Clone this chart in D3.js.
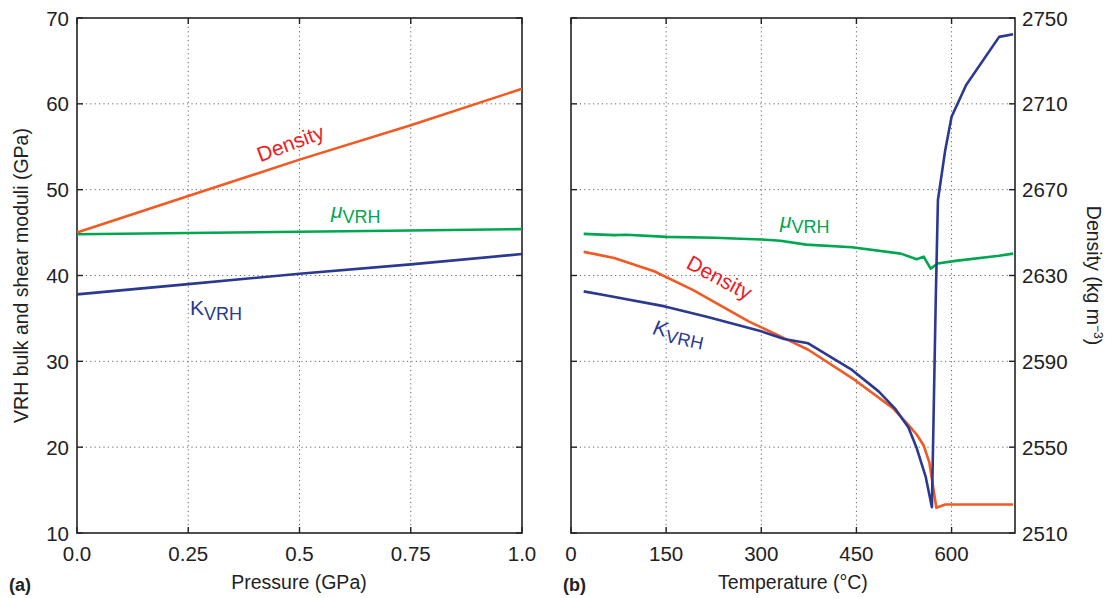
<!DOCTYPE html>
<html>
<head>
<meta charset="utf-8">
<script src="https://cdn.jsdelivr.net/npm/d3@7"></script>
<style>
  body { margin: 0; background: #fff; }
  svg { font-family: "Liberation Sans", Arial, sans-serif; }
  .grid line { stroke: #666; stroke-width: 1; stroke-dasharray: 1.2, 3.2; }
  .frame { fill: none; stroke: #222; stroke-width: 1.6; }
  .tick-lbl { font-size: 20.5px; fill: #222; }
  .ax-lbl { font-size: 19.5px; fill: #222; }
</style>
</head>
<body>
<div id="chart"></div>
<script>
// ---- data (a): pressure at room temperature ----
const pressure = [0, 0.25, 0.5, 0.75, 1.0];
const kP = [37.8, 39.0, 40.2, 41.3, 42.5];
const muP = [44.8, 44.95, 45.1, 45.25, 45.4];
const rhoP = [2650, 2667, 2684, 2700, 2717];

// ---- data (b): temperature ----
const tempMu = [20, 68, 87, 151, 225, 300, 330, 371, 443, 520, 545, 556, 567, 578, 606, 675, 697];
const muT = [44.85, 44.7, 44.75, 44.5, 44.4, 44.2, 44.05, 43.6, 43.3, 42.55, 41.9, 42.2, 40.8, 41.4, 41.7, 42.3, 42.55];

const tempK = [20, 54, 148, 214, 300, 336, 374, 443, 485, 512, 532, 545, 559, 569, 575, 578.5, 590, 600, 623, 675, 697];
const kT = [38.15, 37.7, 36.4, 35.2, 33.5, 32.6, 32.1, 29.0, 26.5, 24.4, 22.3, 19.9, 16.6, 13.0, 37.0, 48.8, 54.6, 58.5, 62.2, 67.8, 68.1];

const tempRho = [20, 68, 131, 192, 280, 336, 374, 443, 507, 529, 545, 556, 565, 576, 590, 697];
const rhoT = [2641, 2638.2, 2632, 2623.3, 2608.6, 2600.8, 2595.4, 2582.2, 2568.3, 2561.3, 2555.9, 2550.8, 2542.8, 2521.8, 2523.3, 2523.3];

const gpaTicks = [10, 20, 30, 40, 50, 60, 70];
const rhoTicks = [2510, 2550, 2590, 2630, 2670, 2710, 2750];
const pTicks = [0, 0.25, 0.5, 0.75, 1.0];
const pTickLabels = ["0.0", "0.25", "0.5", "0.75", "1.0"];
const tTicks = [0, 150, 300, 450, 600];

const colK = "#2b3990", colMu = "#00a650", colRho = "#f15a22", colRhoTxt = "#ed1c24";

const W = 1108, H = 598;
const yTop = 18, yBot = 533;
const svg = d3.select("#chart").append("svg").attr("width", W).attr("height", H);

const yG = d3.scaleLinear().domain([10, 70]).range([yBot, yTop]);
const yR = d3.scaleLinear().domain([2510, 2750]).range([yBot, yTop]);

function panel(x0, x1, xDomain, xTicks, xFmt) {
  const x = d3.scaleLinear().domain(xDomain).range([x0, x1]);
  const g = svg.append("g");
  // grid
  const grid = g.append("g").attr("class", "grid");
  grid.selectAll(".gx").data(xTicks.filter(d => x(d) > x0 + 1 && x(d) < x1 - 1)).enter()
    .append("line").attr("x1", d => x(d)).attr("x2", d => x(d)).attr("y1", yTop).attr("y2", yBot);
  grid.selectAll(".gy").data(gpaTicks.slice(1, -1)).enter()
    .append("line").attr("x1", x0).attr("x2", x1).attr("y1", d => yG(d)).attr("y2", d => yG(d));
  // inward ticks on all sides
  const tl = 6;
  const ticks = g.append("g").attr("stroke", "#222").attr("stroke-width", 1.4);
  xTicks.forEach(d => {
    ticks.append("line").attr("x1", x(d)).attr("x2", x(d)).attr("y1", yBot).attr("y2", yBot - tl);
    ticks.append("line").attr("x1", x(d)).attr("x2", x(d)).attr("y1", yTop).attr("y2", yTop + tl);
  });
  gpaTicks.forEach(d => {
    ticks.append("line").attr("x1", x0).attr("x2", x0 + tl).attr("y1", yG(d)).attr("y2", yG(d));
    ticks.append("line").attr("x1", x1).attr("x2", x1 - tl).attr("y1", yG(d)).attr("y2", yG(d));
  });
  g.append("rect").attr("class", "frame").attr("x", x0).attr("y", yTop).attr("width", x1 - x0).attr("height", yBot - yTop);
  // x tick labels
  g.selectAll(".xl").data(xTicks).enter().append("text").attr("class", "tick-lbl")
    .attr("x", d => x(d)).attr("y", yBot + 28).attr("text-anchor", "middle")
    .text((d, i) => xFmt(d, i));
  return { g, x };
}

function drawLine(g, x, y, xs, ys, color) {
  const line = d3.line().x(d => x(d[0])).y(d => y(d[1]));
  g.append("path").datum(xs.map((v, i) => [v, ys[i]]))
    .attr("d", line).attr("fill", "none").attr("stroke", color)
    .attr("stroke-width", 2.6).attr("stroke-linejoin", "round");
}

function subLabel(g, x, y, main, sub, color, italic, rot) {
  const t = g.append("text").attr("transform", `translate(${x},${y}) rotate(${rot || 0})`)
    .attr("fill", color).attr("font-size", 21);
  t.append("tspan").attr("font-style", italic ? "italic" : "normal").text(main);
  t.append("tspan").attr("font-size", 18).attr("dy", 5).text(sub);
  return t;
}

// ---- panel (a) ----
const a = panel(77, 522, [0, 1], pTicks, (d, i) => pTickLabels[i]);
drawLine(a.g, a.x, yR, pressure, rhoP, colRho);
drawLine(a.g, a.x, yG, pressure, muP, colMu);
drawLine(a.g, a.x, yG, pressure, kP, colK);

a.g.selectAll(".yl").data(gpaTicks).enter().append("text").attr("class", "tick-lbl")
  .attr("x", 69).attr("y", d => yG(d) + 7.5).attr("text-anchor", "end").text(d => d);

a.g.append("text").attr("transform", "translate(293,150) rotate(-20.5)")
  .attr("text-anchor", "middle").attr("fill", colRhoTxt).attr("font-size", 21).text("Density");
subLabel(a.g, 331, 218, "\u03bc", "VRH", colMu, true, 0);
subLabel(a.g, 190, 315, "K", "VRH", colK, false, 0);

svg.append("text").attr("class", "ax-lbl").attr("transform", `translate(28,${(yTop + yBot) / 2}) rotate(-90)`)
  .attr("text-anchor", "middle").text("VRH bulk and shear moduli (GPa)");
svg.append("text").attr("class", "ax-lbl").attr("x", 299).attr("y", 589).attr("text-anchor", "middle").text("Pressure (GPa)");
svg.append("text").attr("x", 9).attr("y", 591).attr("font-size", 18).attr("font-weight", "bold").attr("fill", "#222").text("(a)");

// ---- panel (b) ----
const b = panel(571, 1015, [0, 700], tTicks, d => d);
drawLine(b.g, b.x, yG, tempMu, muT, colMu);
drawLine(b.g, b.x, yR, tempRho, rhoT, colRho);
drawLine(b.g, b.x, yG, tempK, kT, colK);

b.g.selectAll(".yr").data(rhoTicks).enter().append("text").attr("class", "tick-lbl")
  .attr("x", 1022).attr("y", d => yR(d) + 7.5).attr("text-anchor", "start").text(d => d);

b.g.append("text").attr("transform", "translate(716,284) rotate(28)")
  .attr("text-anchor", "middle").attr("fill", colRhoTxt).attr("font-size", 21).text("Density");
subLabel(b.g, 780, 228, "\u03bc", "VRH", colMu, true, 0);
subLabel(b.g, 652, 334, "K", "VRH", colK, true, 12);

const dl = svg.append("text").attr("class", "ax-lbl")
  .attr("transform", `translate(1087,${(yTop + yBot) / 2}) rotate(90)`).attr("text-anchor", "middle");
dl.append("tspan").text("Density (kg m");
dl.append("tspan").attr("font-size", 12).attr("dy", -7).text("\u22123");
dl.append("tspan").attr("dy", 7).text(")");
svg.append("text").attr("class", "ax-lbl").attr("x", 793).attr("y", 589).attr("text-anchor", "middle").text("Temperature (\u00b0C)");
svg.append("text").attr("x", 563).attr("y", 591).attr("font-size", 18).attr("font-weight", "bold").attr("fill", "#222").text("(b)");
</script>
</body>
</html>
